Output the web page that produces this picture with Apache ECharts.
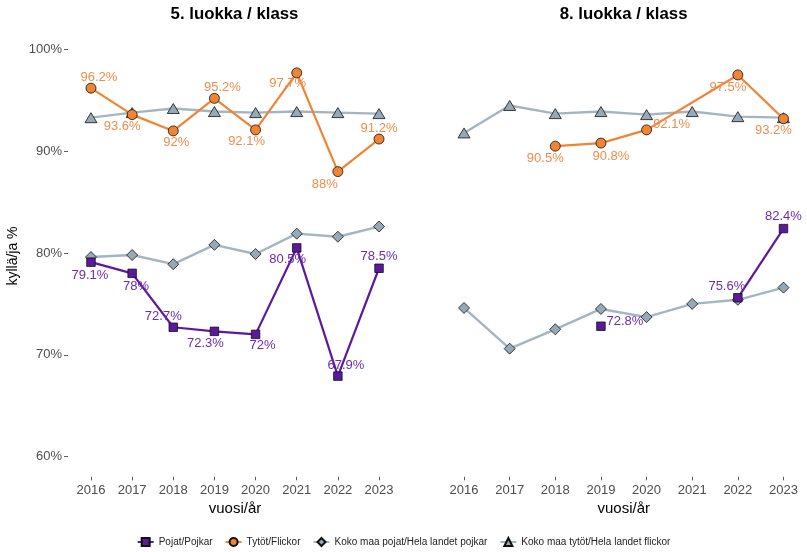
<!DOCTYPE html>
<html>
<head>
<meta charset="utf-8">
<script src="https://cdn.jsdelivr.net/npm/echarts@6/dist/echarts.min.js"></script>
<style>
  html, body { margin: 0; padding: 0; background: #fff; }
  #chart { width: 807px; height: 552px; }
</style>
</head>
<body>
<div id="chart"></div>
<script>
// Years on the x axis
const years = ['2016', '2017', '2018', '2019', '2020', '2021', '2022', '2023'];

// 5. luokka / klass (percent "yes")
const g5Boys = [79.1, 78, 72.7, 72.3, 72, 80.5, 67.9, 78.5];
const g5Girls = [96.2, 93.6, 92, 95.2, 92.1, 97.7, 88, 91.2];
const g5NatBoys = [79.6, 79.8, 78.9, 80.8, 79.9, 81.9, 81.6, 82.6];
const g5NatGirls = [93.3, 93.8, 94.2, 93.9, 93.8, 93.9, 93.8, 93.7];

// 8. luokka / klass (null = no result that year)
const g8Boys = [null, null, null, 72.8, null, null, 75.6, 82.4];
const g8Girls = [null, null, 90.5, 90.8, 92.1, null, 97.5, 93.2];
const g8NatBoys = [74.6, 70.6, 72.5, 74.5, 73.7, 75.0, 75.4, 76.6];
const g8NatGirls = [91.8, 94.5, 93.7, 93.9, 93.6, 93.9, 93.4, 93.3];

// Y tick labels
const yTicks = [60, 70, 80, 90, 100];

const seriesNames = ['Pojat/Pojkar', 'Tytöt/Flickor', 'Koko maa pojat/Hela landet pojkar', 'Koko maa tytöt/Hela landet flickor'];

// label nudges (px) so value labels sit clear of the lines
const nudge = {
  g5Boys:  [[-1, 13], [4, 13], [-10, -11], [-9, 12], [7, 11], [-9, 12], [8, -11], [0, -12]],
  g5Girls: [[8, -11], [-10, 12], [3, 12], [8, -11], [-9, 12], [-9, 11], [-13, 13], [0, -11]],
  g8Boys:  [null, null, null, [24, -5], null, null, [-11, -11], [0, -12]],
  g8Girls: [null, null, [-10, 12], [10, 13], [25, -5], null, [-10, 12], [-10, 12]]
};

const FONT = '"Liberation Sans", Arial, Helvetica, sans-serif';
const PURPLE = '#5b1a9d';
const PURPLE_TXT = '#6a2cb3';
const ORANGE = '#ee8434';
const ORANGE_TXT = '#f08d4a';
const GREY_LINE = '#a4b5c2';
const GREY_FILL = '#97a9b7';

function toData(values, offsets) {
  return values.map((v, i) => {
    if (v === null) return '-';
    const item = { value: v };
    if (offsets && offsets[i]) item.label = { offset: offsets[i] };
    return item;
  });
}

function mainSeries(name, values, offsets, idx, color, txtColor, symbol, size, connect) {
  return {
    name: name,
    type: 'line',
    xAxisIndex: idx,
    yAxisIndex: idx,
    data: toData(values, offsets),
    connectNulls: connect,
    symbol: symbol,
    symbolSize: size,
    showAllSymbol: true,
    z: 5,
    lineStyle: { color: color, width: 2.2 },
    itemStyle: { color: color, borderColor: '#111', borderWidth: 0.8 },
    label: {
      show: true,
      position: 'inside',
      color: txtColor,
      fontFamily: FONT,
      fontSize: 13,
      formatter: p => p.value + '%'
    },
    emphasis: { disabled: true },
    animation: false
  };
}

function nationalSeries(name, values, idx, symbol, size) {
  return {
    name: name,
    type: 'line',
    xAxisIndex: idx,
    yAxisIndex: idx,
    data: values,
    symbol: symbol,
    symbolSize: size,
    showAllSymbol: true,
    z: 2,
    lineStyle: { color: GREY_LINE, width: 2.4 },
    itemStyle: { color: GREY_FILL, borderColor: '#111', borderWidth: 0.8 },
    emphasis: { disabled: true },
    animation: false
  };
}

function xAxis(idx) {
  return {
    type: 'category',
    gridIndex: idx,
    data: years,
    boundaryGap: true,
    axisLine: { show: false },
    axisTick: { show: true, alignWithLabel: true, length: 3.5, lineStyle: { color: '#333', width: 0.8 } },
    axisLabel: { color: '#4d4d4d', fontFamily: FONT, fontSize: 13, margin: 7 },
    splitLine: { show: false },
    name: 'vuosi/år',
    nameLocation: 'middle',
    nameGap: 25,
    nameTextStyle: { color: '#000', fontFamily: FONT, fontSize: 15 }
  };
}

function yAxis(idx, showLabels) {
  return {
    type: 'value',
    gridIndex: idx,
    min: 58,
    max: 102,
    offset: showLabels ? 2.4 : 0,
    axisLine: { show: false },
    axisTick: { show: showLabels, customValues: yTicks, length: 4, lineStyle: { color: '#333', width: 0.8 } },
    axisLabel: {
      show: showLabels,
      customValues: yTicks,
      color: '#4d4d4d',
      fontFamily: FONT,
      fontSize: 13,
      margin: 6,
      formatter: v => v + '%'
    },
    splitLine: { show: false }
  };
}

const chart = echarts.init(document.getElementById('chart'), null, { renderer: 'canvas' });

chart.setOption({
  backgroundColor: '#fff',
  animation: false,
  grid: [
    { left: 70.4, right: 407.4, top: 29.15, bottom: 75.15 },
    { left: 441.2, right: 0.7, top: 29.15, bottom: 75.15 }
  ],
  xAxis: [xAxis(0), xAxis(1)],
  yAxis: [yAxis(0, true), yAxis(1, false)],
  legend: {
    bottom: 0,
    left: 'center',
    itemWidth: 16,
    itemHeight: 10,
    itemGap: 12,
    data: seriesNames,
    textStyle: { color: '#222', fontFamily: FONT, fontSize: 10 }
  },
  graphic: [
    { type: 'text', x: 234.5, y: 14, style: { text: '5. luokka / klass', font: 'bold 16.8px ' + FONT, fill: '#000', align: 'center', verticalAlign: 'middle' } },
    { type: 'text', x: 623.6, y: 14, style: { text: '8. luokka / klass', font: 'bold 16.8px ' + FONT, fill: '#000', align: 'center', verticalAlign: 'middle' } },
    { type: 'text', x: 13, y: 256, rotation: Math.PI / 2, style: { text: 'kyllä/ja %', font: '14px ' + FONT, fill: '#000', align: 'center', verticalAlign: 'middle' } }
  ],
  series: [
    nationalSeries(seriesNames[2], g5NatBoys, 0, 'diamond', 11),
    nationalSeries(seriesNames[3], g5NatGirls, 0, 'triangle', [12, 10]),
    mainSeries(seriesNames[1], g5Girls, nudge.g5Girls, 0, ORANGE, ORANGE_TXT, 'circle', 10, true),
    mainSeries(seriesNames[0], g5Boys, nudge.g5Boys, 0, PURPLE, PURPLE_TXT, 'rect', 8.5, false),

    nationalSeries(seriesNames[2], g8NatBoys, 1, 'diamond', 11),
    nationalSeries(seriesNames[3], g8NatGirls, 1, 'triangle', [12, 10]),
    mainSeries(seriesNames[1], g8Girls, nudge.g8Girls, 1, ORANGE, ORANGE_TXT, 'circle', 10, true),
    mainSeries(seriesNames[0], g8Boys, nudge.g8Boys, 1, PURPLE, PURPLE_TXT, 'rect', 8.5, false)
  ]
});
</script>
</body>
</html>
